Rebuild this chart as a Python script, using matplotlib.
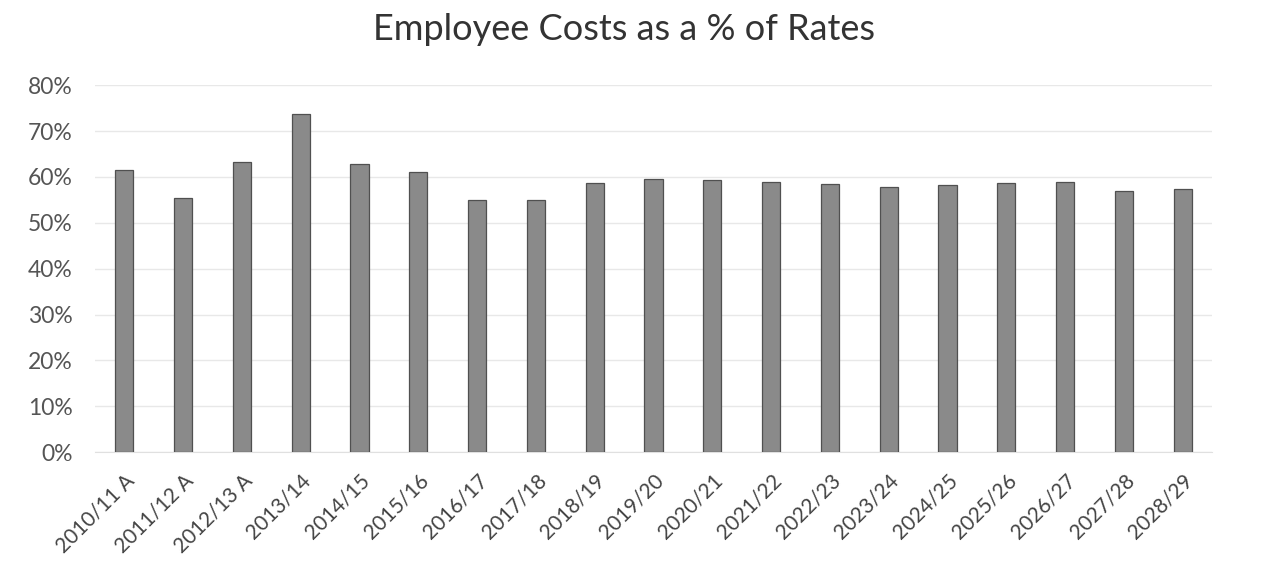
import matplotlib
matplotlib.use("Agg")
import matplotlib.pyplot as plt
from matplotlib.ticker import PercentFormatter

# data
years = ["2010/11 A", "2011/12 A", "2012/13 A", "2013/14", "2014/15", "2015/16",
         "2016/17", "2017/18", "2018/19", "2019/20", "2020/21", "2021/22",
         "2022/23", "2023/24", "2024/25", "2025/26", "2026/27", "2027/28", "2028/29"]
cost_pct = [61.5, 55.5, 63.2, 73.8, 62.8, 61.0, 55.0, 55.0, 58.6, 59.5,
            59.4, 58.8, 58.5, 57.8, 58.2, 58.6, 59.0, 57.0, 57.3]
y_ticks = [0, 10, 20, 30, 40, 50, 60, 70, 80]

plt.rcParams['font.family'] = ['Lato', 'DejaVu Sans']

fig = plt.figure(figsize=(12.64, 5.76), dpi=100)
ax = fig.add_axes([0.075, 0.215, 0.884, 0.637])

x = list(range(len(years)))
ax.bar(x, cost_pct, width=0.31, color='#8a8a8a', edgecolor='#505050', linewidth=0.9, zorder=3)

ax.set_xlim(-0.5, len(years) - 0.5)
ax.set_ylim(0, 80)
ax.set_yticks(y_ticks)
ax.yaxis.set_major_formatter(PercentFormatter(decimals=0))
ax.grid(axis='y', color='#e8e8e8', linewidth=1.0, zorder=0)

for side in ['top', 'right', 'left']:
    ax.spines[side].set_visible(False)
ax.spines['bottom'].set_color('#e0e0e0')
ax.tick_params(axis='both', length=0, colors='#555555')
ax.tick_params(axis='y', pad=16, labelsize=16.5)
ax.tick_params(axis='x', pad=13, labelsize=15)

ax.set_xticks(x)
ax.set_xticklabels(years, rotation=45, ha='right', rotation_mode='anchor')
for lbl in ax.get_xticklabels():
    lbl.set_color('#444444')

fig.text(0.494, 0.948, "Employee Costs as a % of Rates", ha='center', va='center',
         fontsize=26, color='#333333')

fig.savefig("out.png", dpi=100, facecolor='white')
